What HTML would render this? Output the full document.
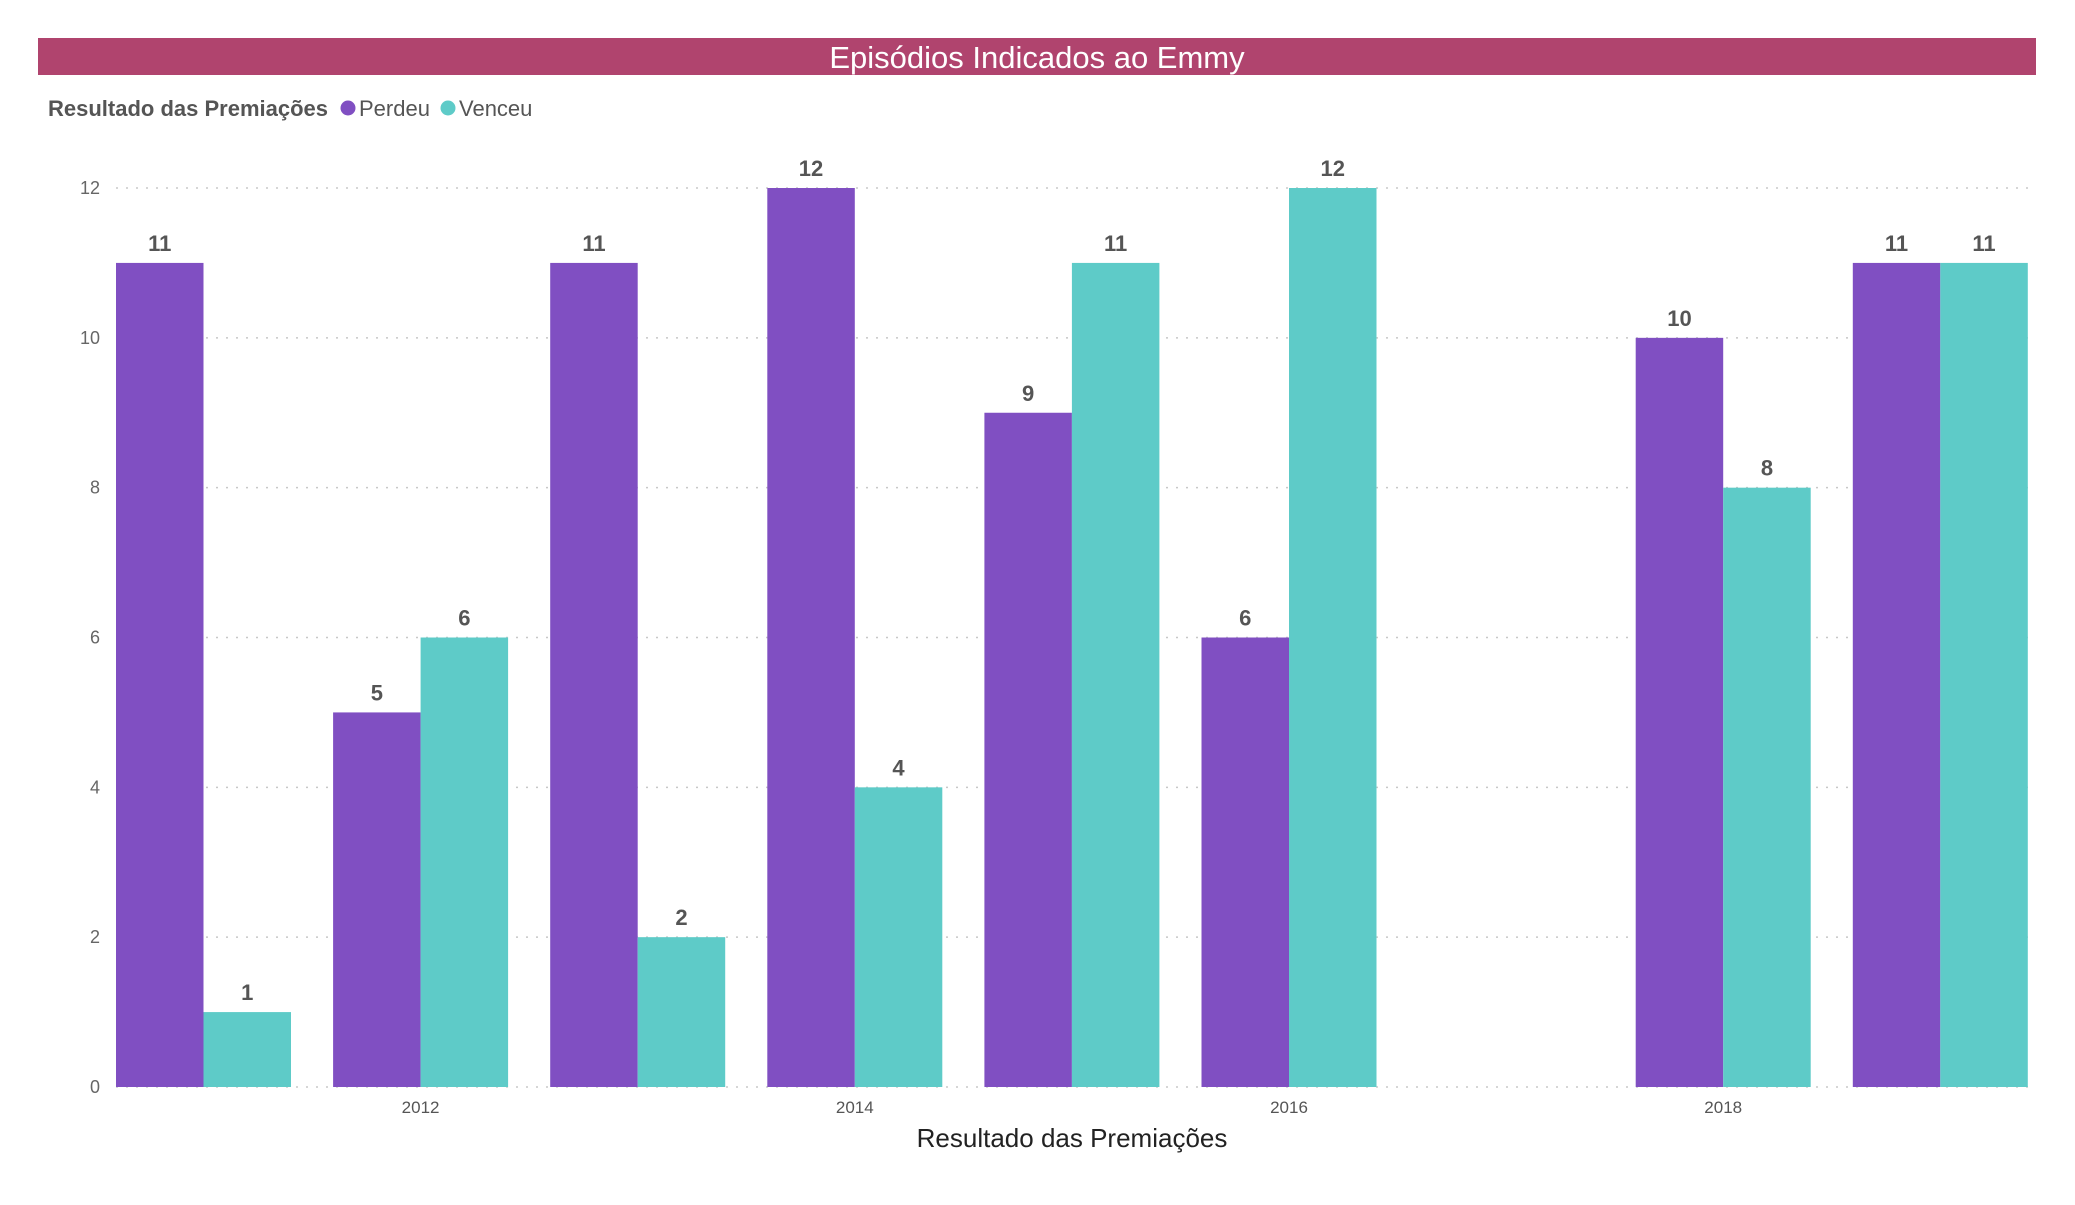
<!DOCTYPE html>
<html><head><meta charset="utf-8"><style>
body{margin:0;background:#fff;width:2075px;height:1200px;overflow:hidden;font-family:"Liberation Sans",sans-serif}
</style></head><body>
<svg id="chart" width="2075" height="1200">
<rect x="38" y="38" width="1998" height="37" fill="#b0446e"/>
<text x="1037" y="68" text-anchor="middle" font-size="31" fill="#fff">Episódios Indicados ao Emmy</text>
<g>
<text x="48" y="116" font-size="22" font-weight="bold" fill="#555">Resultado das Premiações</text>
<circle cx="348" cy="108" r="7.5" fill="#804fc2"/>
<text x="359" y="116" font-size="22" fill="#555">Perdeu</text>
<circle cx="448" cy="108" r="7.5" fill="#5ecbc8"/>
<text x="459" y="116" font-size="22" fill="#555">Venceu</text>
</g>
<g id="grid"></g><g id="bars"></g><g id="labels"></g>
<text x="1072" y="1147" text-anchor="middle" font-size="26" fill="#222">Resultado das Premiações</text>
</svg>
<script>
const categories=["2011","2012","2013","2014","2015","2016","2017","2018","2019"];
const perdeu=[11,5,11,12,9,6,null,10,11];
const venceu=[1,6,2,4,11,12,null,8,11];
const yTicks=[0,2,4,6,8,10,12];
const xTickLabels=["2012","2014","2016","2018"];
const NS="http://www.w3.org/2000/svg";
const y0=1087,yTop=188,yMax=12,x0=116,step=217.1,bw=87.5;
const ys=v=>y0-(v/yMax)*(y0-yTop);
const xs=i=>x0+i*step;
function mk(tag,attrs,parent,text){const e=document.createElementNS(NS,tag);for(const k in attrs)e.setAttribute(k,attrs[k]);if(text!==undefined)e.textContent=text;parent.appendChild(e);return e;}
const grid=document.getElementById('grid'),bars=document.getElementById('bars'),labels=document.getElementById('labels');
yTicks.forEach(t=>{
  const l=mk('line',{x1:116,x2:2028,y1:ys(t),y2:ys(t),stroke:'#c8c8c8','stroke-width':1.5,'stroke-dasharray':'2 8'},grid);
  
  
  const tx=mk('text',{x:100,y:ys(t)+6,'text-anchor':'end','font-size':18,fill:'#666'},grid,String(t));
  
  
});
categories.forEach((c,i)=>{
  [[perdeu,'#804fc2','perdeu',0],[venceu,'#5ecbc8','venceu',1]].forEach(([arr,col,nm,k])=>{
    const v=arr[i]; if(v===null||v===undefined) return;
    const x=xs(i)+k*bw;
    const r=mk('rect',{x:x,y:ys(v),width:bw,height:y0-ys(v),fill:col},bars);
    
    
    const t=mk('text',{x:x+bw/2,y:ys(v)-12,'text-anchor':'middle','font-size':22,'font-weight':'bold',fill:'#555'},labels,String(v));
    
    
  });
  if(xTickLabels.includes(c)){
    const t=mk('text',{x:xs(i)+bw,y:1113,'text-anchor':'middle','font-size':17,fill:'#555'},labels,c);
    
    
  }
});
</script>
</body></html>
